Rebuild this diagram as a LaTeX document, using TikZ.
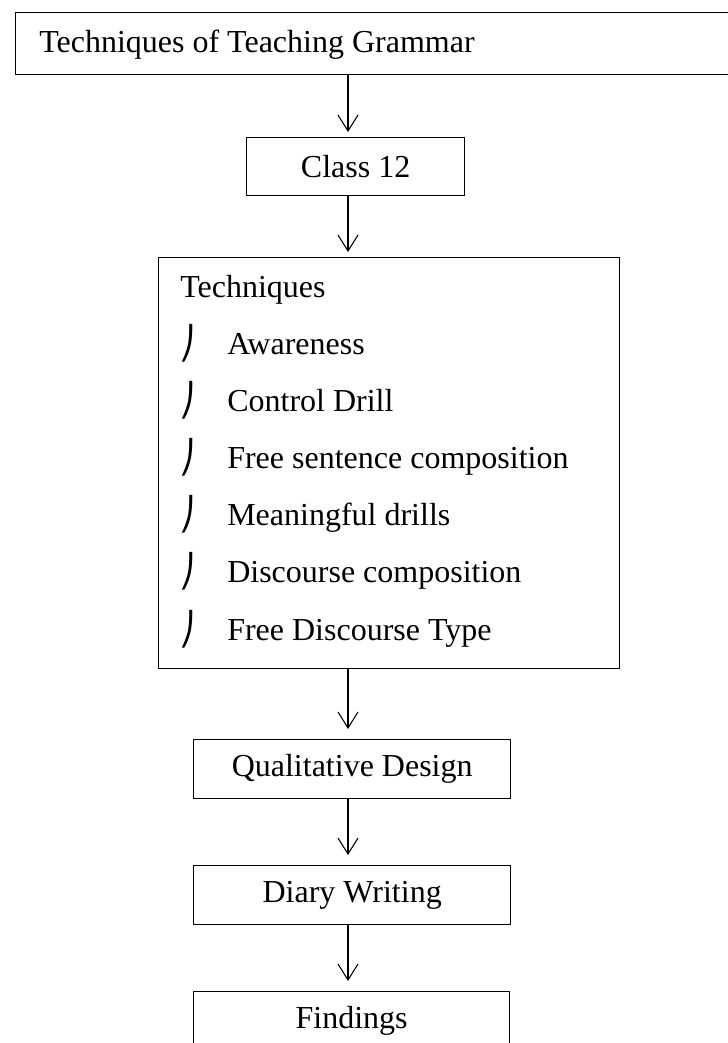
\documentclass[tikz,border=0pt]{standalone}
\usepackage{fontspec}
\setmainfont{Liberation Serif}
\newfontfamily\tickfont{DejaVu Sans}
\usetikzlibrary{arrows.meta, positioning}

\tikzset{
  box/.style = {
    rectangle, draw, line width = 1pt, inner sep = 0pt,
    font = \fontsize{24}{28}\selectfont
  },
  flow/.style = {
    -{Straight Barb[length = 12pt, width = 15pt]}, line width = 0.8pt
  },
  entry/.style = {
    anchor = base west, inner sep = 0pt, font = \fontsize{24}{28}\selectfont
  },
  tick/.style = {
    anchor = base west, inner sep = 0pt, font = \tickfont\fontsize{24}{28}\selectfont
  }
}

\begin{document}
\begin{tikzpicture}[x = 0.75pt, y = -0.75pt]
      \clip (0,0) rectangle (728,1043);
      \coordinate (axis) at (348,0);

      \node [box, anchor = north west, minimum width = 540pt, minimum height = 46.5pt]
        (grammar) at (15,12) {};
      \node [entry] (grammar-title) at (39,52) {Techniques of Teaching Grammar};
      \node [box, anchor = north west, minimum width = 163.5pt, minimum height = 43.5pt]
        (class) at (246,137) {Class 12};

      % the list of techniques
      \node [box, anchor = north west, minimum width = 345.75pt, minimum height = 308.25pt]
        (tech) at (158,257) {};
      \node [entry] (tech-title) at (180,297) {Techniques};
      \foreach \name [count = \i] in {Awareness, Control Drill, Free sentence composition,
          Meaningful drills, Discourse composition, Free Discourse Type} {
        \node [tick] (tick-\i) at (179,{354 + 57.2*(\i-1)}) {⎠};
        \node [entry] (item-\i) at (227,{354 + 57.2*(\i-1)}) {\name};
      }

      \node [box, anchor = north west, minimum width = 237.75pt, minimum height = 44.25pt]
        (design) at (193,739) {Qualitative Design};
      \node [box, anchor = north west, minimum width = 237.75pt, minimum height = 44.25pt]
        (diary) at (193,865) {Diary Writing};
      \node [box, anchor = north west, minimum width = 237pt, minimum height = 44.25pt]
        (findings) at (193,991) {Findings};

      \draw [flow, shorten > = 3.75pt] (grammar.south -| axis) -- (class.north -| axis);
      \draw [flow, shorten > = 3.75pt] (class.south -| axis) -- (tech.north -| axis);
      \draw [flow, shorten > = 7.5pt] (tech.south -| axis) -- (design.north -| axis);
      \draw [flow, shorten > = 7.5pt] (design.south -| axis) -- (diary.north -| axis);
      \draw [flow, shorten > = 7.5pt] (diary.south -| axis) -- (findings.north -| axis);
    \end{tikzpicture}
\end{document}
